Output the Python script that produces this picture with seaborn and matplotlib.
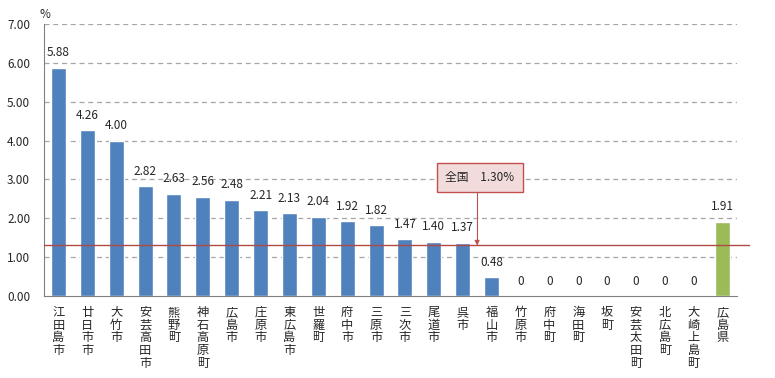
import matplotlib
matplotlib.use("Agg")
import matplotlib.pyplot as plt
from matplotlib.ticker import MultipleLocator, FixedLocator
import seaborn as sns
import pandas as pd
import numpy as np

# data
areas = ["江田島市", "廿日市市", "大竹市", "安芸高田市", "熊野町", "神石高原町", "広島市",
         "庄原市", "東広島市", "世羅町", "府中市", "三原市", "三次市", "尾道市", "呉市",
         "福山市", "竹原市", "府中町", "海田町", "坂町", "安芸太田町", "北広島町",
         "大崎上島町", "広島県"]
rates = [5.88, 4.26, 4.00, 2.82, 2.63, 2.56, 2.48, 2.21, 2.13, 2.04, 1.92, 1.82,
         1.47, 1.40, 1.37, 0.48, 0, 0, 0, 0, 0, 0, 0, 1.91]
national_rate = 1.30
national_label = "全国　1.30%"

sns.set_style("white")
plt.rcParams['font.family'] = ['Noto Sans CJK JP', 'DejaVu Sans']

df = pd.DataFrame({"area": areas, "rate": rates})
palette = ["#9bbb59" if a == "広島県" else "#4f81bd" for a in areas]

fig = plt.figure(figsize=(7.75, 3.78), dpi=100)
ax = fig.add_axes([44/775, (378-296)/378, (737-44)/775, (296-24)/378])

sns.barplot(data=df, x="area", y="rate", hue="area", palette=palette,
            legend=False, width=0.52, saturation=1, ax=ax)

ax.set_ylim(0, 7)
ax.set_xlim(-0.5, len(areas) - 0.5)
ax.yaxis.set_major_locator(MultipleLocator(1))
ax.set_yticklabels([f"{v:.2f}" for v in ax.get_yticks()], fontsize=8.5)
ax.tick_params(axis="y", length=0, pad=10)
for v in range(1, 8):
    ax.axhline(v, color="#a6a6a6", lw=0.9, ls=(0, (4, 3)), zorder=0)

ax.set_xticks(range(len(areas)))
ax.set_xticklabels(["\n".join(a) for a in areas], fontsize=8.8,
                   va="top", linespacing=0.98)
ax.tick_params(axis="x", which="major", length=0, pad=7)
ax.xaxis.set_minor_locator(FixedLocator(np.arange(-0.5, len(areas), 1)))
ax.tick_params(axis="x", which="minor", length=4, color="#808080", direction="out")
ax.set_xlabel("")
ax.set_ylabel("")

for s in ["top", "right"]:
    ax.spines[s].set_visible(False)
for s in ["left", "bottom"]:
    ax.spines[s].set_color("#808080")

for i, v in enumerate(rates):
    txt = "0" if v == 0 else f"{v:.2f}"
    ax.annotate(txt, (i, v), xytext=(0, 6), textcoords="offset points",
                ha="center", va="bottom", fontsize=8.5)

ax.plot([-0.5, 23.9], [national_rate, national_rate], color="#b04a47", lw=1,
        clip_on=False, zorder=3)
ax.annotate(national_label, xy=(14.5, national_rate), xytext=(14.6, 3.05),
            ha="center", va="center", fontsize=8.5,
            bbox=dict(boxstyle="square,pad=0.7", fc="#f2dcdb", ec="#c0504d", lw=1),
            arrowprops=dict(arrowstyle="-|>", color="#c0504d", lw=0.8,
                            mutation_scale=7, shrinkA=0, shrinkB=0,
                            connectionstyle="angle,angleA=0,angleB=90,rad=0"))

fig.text(40/775, 1 - 14/378, "%", fontsize=8.5, ha="left", va="center")

fig.savefig("out.png", dpi=100)
